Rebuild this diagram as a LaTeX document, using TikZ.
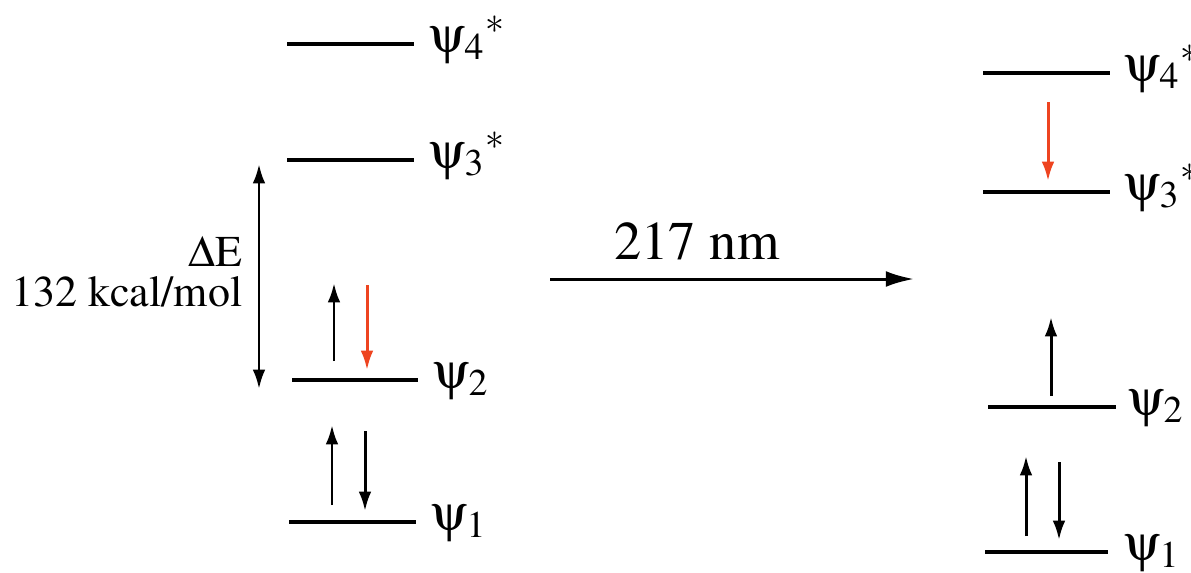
\documentclass[tikz,border=0pt]{standalone}
\usepackage[T1]{fontenc}
\usepackage{mathptmx}
\usepackage[Symbol]{upgreek}
\usetikzlibrary{arrows.meta, positioning, calc}
\definecolor{spinred}{RGB}{238,68,32}

\begin{document}
\begin{tikzpicture}[x=0.01cm, y=-0.01cm,
  every node/.style={font=\fontsize{15.5}{18}\selectfont, inner sep=0pt},
  level/.style={line width=1.3pt},
  psilabel/.style={anchor=base west, font=\fontsize{14.5}{17}\selectfont},
  spin/.style={-{Latex[length=5.5pt, width=3.6pt]}, line width=0.85pt},
  spinex/.style={spin, spinred},
  gap/.style={{Latex[length=5.5pt, width=3.6pt]}-{Latex[length=5.5pt, width=3.6pt]}, line width=0.85pt},
  hv/.style={-{Latex[length=8pt, width=4.5pt]}, line width=0.85pt},
]
\useasboundingbox (0,0) rectangle (1191,572);

%% Ground state levels
\coordinate (g4a) at (287,44);  \coordinate (g4b) at (414,44);
\coordinate (g3a) at (287,160); \coordinate (g3b) at (414,160);
\coordinate (g2a) at (292,380); \coordinate (g2b) at (418,380);
\coordinate (g1a) at (289,522); \coordinate (g1b) at (416,522);
\draw[level] (g4a) -- (g4b);
\draw[level] (g3a) -- (g3b);
\draw[level] (g2a) -- (g2b);
\draw[level] (g1a) -- (g1b);
\node[psilabel] (gpsi4) at ($(g4b)+(15,8)$) {$\uppsi_4{}^{*}$};
\node[psilabel] (gpsi3) at ($(g3b)+(15,8)$) {$\uppsi_3{}^{*}$};
\node[psilabel] (gpsi2) at ($(g2b)+(15,8)$) {$\uppsi_2$};
\node[psilabel] (gpsi1) at ($(g1b)+(15,8)$) {$\uppsi_1$};

%% Electrons, ground state
\coordinate (e2u0) at (334,361); \coordinate (e2u1) at (334,283);
\coordinate (e2d0) at (367,285); \coordinate (e2d1) at (367,370);
\coordinate (e1u0) at (332,505); \coordinate (e1u1) at (332,425);
\coordinate (e1d0) at (365,431); \coordinate (e1d1) at (365,511);
\draw[spin]   (e2u0) -- (e2u1);
\draw[spinex] (e2d0) -- (e2d1);
\draw[spin]   (e1u0) -- (e1u1);
\draw[spin]   (e1d0) -- (e1d1);

%% HOMO-LUMO gap
\coordinate (gaptop) at (259,164);
\coordinate (gapbot) at (259,389);
\draw[gap] (gaptop) -- (gapbot);
\node[anchor=base east, font=\fontsize{12.5}{15}\selectfont] (de) at (243,266) {$\Delta$E};
\node[anchor=base east, font=\fontsize{12.5}{15}\selectfont] (kcal) at (243,306) {132 kcal/mol};

%% Excitation arrow
\coordinate (hva) at (550,279);
\coordinate (hvb) at (914,279);
\draw[hv] (hva) -- node[above=5pt, xshift=-0.35cm] (nm) {217 nm} (hvb);

%% Excited state levels
\coordinate (x4a) at (983,73);  \coordinate (x4b) at (1110,73);
\coordinate (x3a) at (983,192); \coordinate (x3b) at (1110,192);
\coordinate (x2a) at (988,407); \coordinate (x2b) at (1116,407);
\coordinate (x1a) at (985,552); \coordinate (x1b) at (1108,552);
\draw[level] (x4a) -- (x4b);
\draw[level] (x3a) -- (x3b);
\draw[level] (x2a) -- (x2b);
\draw[level] (x1a) -- (x1b);
\node[psilabel] (xpsi4) at ($(x4b)+(14,8)$) {$\uppsi_4{}^{*}$};
\node[psilabel] (xpsi3) at ($(x3b)+(14,8)$) {$\uppsi_3{}^{*}$};
\node[psilabel] (xpsi2) at ($(x2b)+(12,8)$) {$\uppsi_2$};
\node[psilabel] (xpsi1) at ($(x1b)+(16,8)$) {$\uppsi_1$};

%% Electrons, excited state
\coordinate (f3d0) at (1048,102); \coordinate (f3d1) at (1048,181);
\coordinate (f2u0) at (1051,396); \coordinate (f2u1) at (1051,317);
\coordinate (f1u0) at (1026,536); \coordinate (f1u1) at (1026,456);
\coordinate (f1d0) at (1059,462); \coordinate (f1d1) at (1059,540);
\draw[spinex] (f3d0) -- (f3d1);
\draw[spin]   (f2u0) -- (f2u1);
\draw[spin]   (f1u0) -- (f1u1);
\draw[spin]   (f1d0) -- (f1d1);

\end{tikzpicture}
\end{document}
